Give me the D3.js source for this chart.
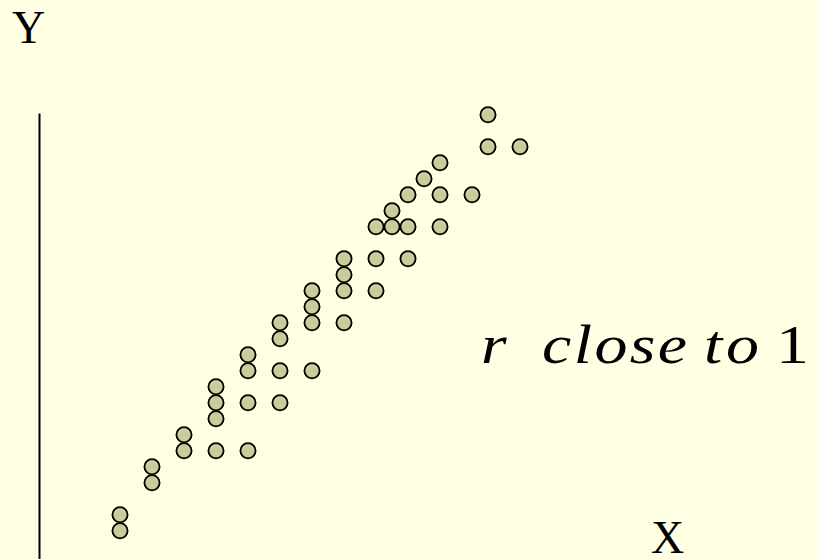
<!DOCTYPE html>
<html>
<head>
<meta charset="utf-8">
<script src="https://cdn.jsdelivr.net/npm/d3@7"></script>
<style>
  html, body { margin: 0; padding: 0; background: #FFFFE3; }
  svg { display: block; }
</style>
</head>
<body>
<script>
// Scatter of paired observations showing a strong positive linear relation
const xValues = [1, 1, 2, 2, 3, 3, 4, 4, 4, 4, 5, 5, 5, 5, 6, 6, 6, 6, 7, 7, 7, 7,
                 8, 8, 8, 8, 9, 9, 9, 9.5, 9.5, 10, 10, 10, 10.5, 11, 11, 11, 12, 12.5, 12.5, 13.5];
const yValues = [2, 1, 5, 4, 7, 6, 10, 9, 8, 6, 12, 11, 9, 6, 14, 13, 11, 9, 16, 15, 14, 11,
                 18, 17, 16, 14, 20, 18, 16, 21, 20, 22, 20, 18, 23, 24, 22, 20, 22, 27, 25, 25];
const axisLabels = ["X", "Y"];
const caption = ["r", "close", "to", "1"];

const width = 817, height = 559;

const svg = d3.select("body").append("svg")
  .attr("width", width)
  .attr("height", height);

svg.append("rect")
  .attr("width", width).attr("height", height)
  .attr("fill", "#FFFFE3");

const x = d3.scaleLinear().domain([0, 20]).range([88, 728]);
const y = d3.scaleLinear().domain([0, 27]).range([546.7, 114.7]);

// vertical axis line
svg.append("line")
  .attr("x1", 39.5).attr("x2", 39.5)
  .attr("y1", 113.5).attr("y2", height)
  .attr("stroke", "#000").attr("stroke-width", 2);

// points
const pts = xValues.map((v, i) => ({ x: v, y: yValues[i] }));
svg.append("g").selectAll("circle")
  .data(pts)
  .join("circle")
  .attr("cx", d => x(d.x))
  .attr("cy", d => y(d.y))
  .attr("r", 7.6)
  .attr("fill", "#CCCC99")
  .attr("stroke", "#000")
  .attr("stroke-width", 1.8);

const serif = "'Liberation Serif', 'Times New Roman', serif";

// axis letters
svg.append("text")
  .attr("x", 12).attr("y", 43)
  .attr("font-family", serif).attr("font-size", 46)
  .attr("fill", "#000")
  .text(axisLabels[1]);

svg.append("text")
  .attr("x", 651).attr("y", 553)
  .attr("font-family", serif).attr("font-size", 46)
  .attr("fill", "#000")
  .text(axisLabels[0]);

// caption, one word at a time, set in a horizontally widened face
const capWords = [
  { t: caption[0], x: 481, ls: 0, italic: true },
  { t: caption[1], x: 542, ls: 2, italic: true },
  { t: caption[2], x: 704, ls: 3, italic: true },
  { t: caption[3], x: 776, ls: 0, italic: false }
];
capWords.forEach(w => {
  svg.append("text")
    .attr("transform", `translate(${w.x},363) scale(1.22,1)`)
    .attr("font-family", serif).attr("font-size", 54)
    .attr("font-style", w.italic ? "italic" : "normal")
    .attr("letter-spacing", w.ls)
    .attr("fill", "#000")
    .text(w.t);
});
</script>
</body>
</html>
